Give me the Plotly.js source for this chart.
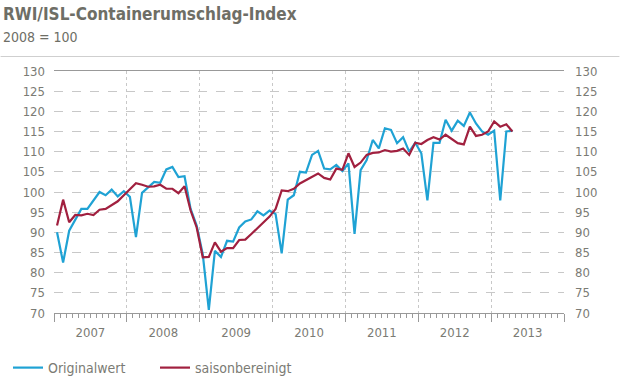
<!DOCTYPE html>
<html>
<head>
<meta charset="utf-8">
<script src="https://cdn.plot.ly/plotly-3.0.1.min.js"></script>
<style>html,body{margin:0;padding:0;background:#fff;}#chart{width:620px;height:385px;}</style>
</head>
<body>
<div id="chart"></div>
<script>
// Monthly data, Jan 2007 .. Apr 2013
var startYear = 2007;
var originalwert = [
  90, 82.5, 90.4, 93.3, 95.8, 95.8, 97.9, 100, 99.2, 100.6, 98.9, 100.2,
  98.8, 88.8, 99.8, 101.2, 102.5, 102.3, 105.6, 106.2, 103.7, 103.9, 95.8, 91.7,
  84.6, 70.8, 85.4, 83.9, 87.9, 87.7, 91.2, 92.7, 93.2, 95.2, 94.2, 95.4,
  94.5, 84.8, 98.1, 99.2, 105, 104.8, 109.2, 110.2, 105.8, 105.6, 106.7, 105.2,
  107.1, 89.6, 105.4, 107.9, 112.9, 110.8, 115.8, 115.4, 112.1, 113.6, 110, 112.2,
  109.6, 97.9, 112.2, 112.2, 117.9, 115.2, 117.7, 116.4, 119.7, 117, 115, 114.2,
  115.2, 97.9, 115, 115.2
];
var saisonbereinigt = [
  91.7, 98.1, 92.5, 94.3, 94.2, 94.6, 94.3, 95.6, 95.8, 96.7, 97.7, 99.2,
  100.6, 102.2, 101.8, 101.3, 101.4, 101.8, 100.8, 100.8, 99.7, 101.4, 95.4, 91.2,
  83.8, 83.9, 87.5, 85.2, 86.1, 86.1, 88.1, 88.2, 89.6, 91.1, 92.5, 93.9,
  95.8, 100.4, 100.2, 100.8, 102.1, 102.9, 103.6, 104.6, 103.5, 103.1, 105.8, 105.5,
  109.6, 106.2, 107.3, 109.2, 109.7, 109.8, 110.4, 110, 110.2, 110.8, 109.2, 112.2,
  111.9, 112.9, 113.6, 113.0, 114.2, 113.1, 112.1, 111.8, 116.2, 113.9, 114.2, 115,
  117.5, 116.2, 116.8, 115
];
var yearLabels = ['2007', '2008', '2009', '2010', '2011', '2012', '2013'];
var seriesNames = ['Originalwert', 'saisonbereinigt'];

// month positions (decimal years, mid-month)
var months = originalwert.map(function (_, i) { return startYear + (i + 0.5) / 12; });
var yearCenters = yearLabels.map(function (y) { return Number(y) + 0.5; });

var gray = '#7b7b74';
var fontFam = '"Liberation Sans Narrow", "DejaVu Sans Condensed", "Roboto Condensed", "Open Sans", sans-serif';

var traces = [
  { x: months, y: originalwert, name: seriesNames[0], type: 'scatter', mode: 'lines',
    line: { color: '#1fa2d4', width: 2.2 }, xaxis: 'x', yaxis: 'y' },
  { x: months, y: saisonbereinigt, name: seriesNames[1], type: 'scatter', mode: 'lines',
    line: { color: '#a1203f', width: 2.2 }, xaxis: 'x', yaxis: 'y' }
];

var L = 53.5, R = 564.5, T = 71, B = 313;
function px(x) { return (x - L) / (R - L); }
function py(y) { return (B - y) / (B - T); }

var layout = {
  width: 620, height: 385,
  margin: { l: L, r: 620 - R, t: T, b: 385 - B, pad: 0, autoexpand: false },
  paper_bgcolor: '#fff', plot_bgcolor: '#fff',
  font: { family: fontFam, color: gray, size: 13 },
  showlegend: true,
  legend: { orientation: 'h', xref: 'container', yref: 'container', x: 8 / 620, y: 1 - 368 / 385,
            xanchor: 'left', yanchor: 'middle',
            font: { size: 14, color: gray }, itemwidth: 30, tracegroupgap: 0,
            entrywidth: 102, entrywidthmode: 'pixels' },
  xaxis: {
    range: [2007, 2014], tickmode: 'linear', tick0: 2007, dtick: 1,
    showticklabels: false, ticks: 'outside', ticklen: 8, tickcolor: '#999', tickwidth: 1,
    showgrid: true, gridcolor: '#c8c8c8', griddash: 'dot', gridwidth: 1,
    showline: true, linecolor: '#999', linewidth: 1, mirror: true,
    minor: { tickmode: 'linear', tick0: 2007, dtick: 1 / 12, ticks: 'outside', ticklen: 4, tickcolor: '#999', showgrid: false },
    zeroline: false, fixedrange: true
  },
  xaxis2: {
    overlaying: 'x', anchor: 'y', side: 'bottom', range: [2007, 2014],
    tickmode: 'array', tickvals: yearCenters, ticktext: yearLabels,
    ticks: '', showgrid: false, showline: false, zeroline: false,
    tickfont: { size: 13, color: gray }, ticklabelstandoff: 10
  },
  yaxis: {
    range: [70, 130], tickmode: 'linear', tick0: 70, dtick: 5,
    showgrid: true, gridcolor: '#c8c8c8', griddash: 'dash', gridwidth: 1,
    showline: false, zeroline: false, ticks: '', tickfont: { size: 13, color: gray },
    ticklabelstandoff: 8
  },
  yaxis2: {
    overlaying: 'y', side: 'right', anchor: 'x', range: [70, 130], tickmode: 'linear', tick0: 70, dtick: 5,
    showgrid: false, showline: false, zeroline: false, ticks: '', tickfont: { size: 13, color: gray },
    ticklabelstandoff: 10
  },
  annotations: [
    { text: '<b>RWI/ISL-Containerumschlag-Index</b>', xref: 'paper', yref: 'paper',
      x: px(0), y: py(14), xanchor: 'left', yanchor: 'middle', showarrow: false,
      font: { size: 17, color: '#6e6e66', family: fontFam } },
    { text: '2008 = 100', xref: 'paper', yref: 'paper',
      x: px(0), y: py(37), xanchor: 'left', yanchor: 'middle', showarrow: false,
      font: { size: 14, color: '#6e6e66', family: fontFam } }
  ],
  shapes: [
    { type: 'line', xref: 'paper', yref: 'paper', x0: px(0), x1: px(620), y0: py(56.5), y1: py(56.5),
      line: { color: '#cfcfcf', width: 1 } }
  ]
};

// invisible helper traces so the secondary axes are drawn
traces.push({ x: [2007, 2014], y: [70, 70], xaxis: 'x2', yaxis: 'y', mode: 'lines', line: { width: 0 }, hoverinfo: 'skip', showlegend: false, opacity: 0 });
traces.push({ x: [2007, 2014], y: [70, 70], xaxis: 'x', yaxis: 'y2', mode: 'lines', line: { width: 0 }, hoverinfo: 'skip', showlegend: false, opacity: 0 });

Plotly.newPlot('chart', traces, layout, { staticPlot: true, displayModeBar: false });
</script>
</body>
</html>
